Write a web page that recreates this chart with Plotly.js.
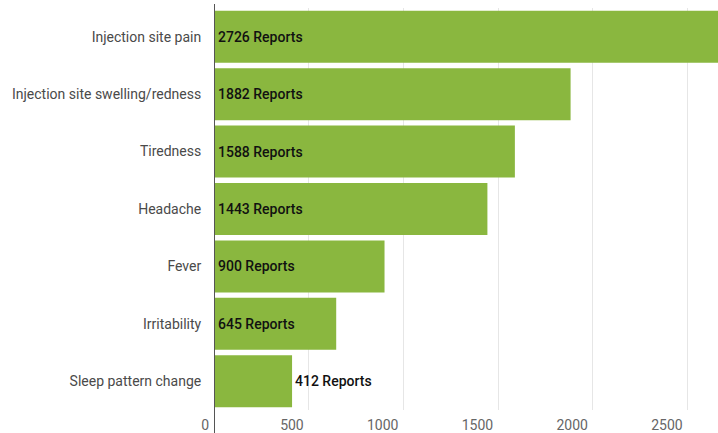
<!DOCTYPE html>
<html>
<head>
<meta charset="utf-8">
<script src="https://cdn.plot.ly/plotly-3.0.1.min.js"></script>
<style>html,body{margin:0;padding:0;background:#fff;}#chart{width:718px;height:433px;}</style>
</head>
<body>
<div id="chart"></div>
<script>
const categories = ["Injection site pain", "Injection site swelling/redness", "Tiredness", "Headache", "Fever", "Irritability", "Sleep pattern change"];
const reports = [2726, 1882, 1588, 1443, 900, 645, 412];
const labels = reports.map(v => v + " Reports");
const tickValues = [0, 500, 1000, 1500, 2000, 2500];

const labelFont = {family: "Roboto, sans-serif", size: 14, color: "#111", weight: 500};

const trace = {
  type: "bar",
  orientation: "h",
  y: categories,
  x: reports,
  marker: {color: "#8ab73f", line: {width: 0}},
  cliponaxis: true,
  hoverinfo: "none"
};

// value labels: anchored at bar start, except short bars which get the label just past the bar end
const annotations = categories.map((c, i) => {
  const outside = reports[i] < 500;
  return {
    xref: "x", yref: "y",
    x: outside ? reports[i] : 0, y: c,
    text: labels[i],
    showarrow: false,
    xanchor: "left", yanchor: "middle",
    xshift: outside ? 1 : 2,
    font: labelFont
  };
});

const layout = {
  width: 718, height: 433,
  margin: {l: 214, r: 0, t: 8, b: 23, pad: 0},
  paper_bgcolor: "#fff", plot_bgcolor: "#fff",
  bargap: 0.094,
  showlegend: false,
  font: {family: "Roboto, sans-serif", size: 14, color: "#555"},
  xaxis: {
    range: [0, 2660],
    tickvals: tickValues,
    ticktext: tickValues.map(String),
    ticklabelposition: "outside left",
    ticklabelshift: -5,
    ticklabelstandoff: 5,
    showgrid: true, gridcolor: "#e6e6e6", gridwidth: 1,
    zeroline: false, showline: false, ticks: "",
    tickfont: {family: "Roboto, sans-serif", size: 14, color: "#666"},
    fixedrange: true
  },
  yaxis: {
    type: "category",
    categoryorder: "array",
    categoryarray: categories,
    autorange: "reversed",
    showgrid: false, zeroline: false, showline: false,
    ticks: "outside", ticklen: 9, tickcolor: "rgba(0,0,0,0)",
    tickfont: {family: "Roboto, sans-serif", size: 14, color: "#4a4a4a"},
    fixedrange: true
  },
  annotations: annotations,
  shapes: [{
    type: "line", xref: "x", yref: "paper",
    x0: 0, x1: 0, y0: -0.06, y1: 1.01,
    line: {color: "#555", width: 2}
  }]
};

Plotly.newPlot("chart", [trace], layout, {displayModeBar: false, staticPlot: true});
</script>
</body>
</html>
